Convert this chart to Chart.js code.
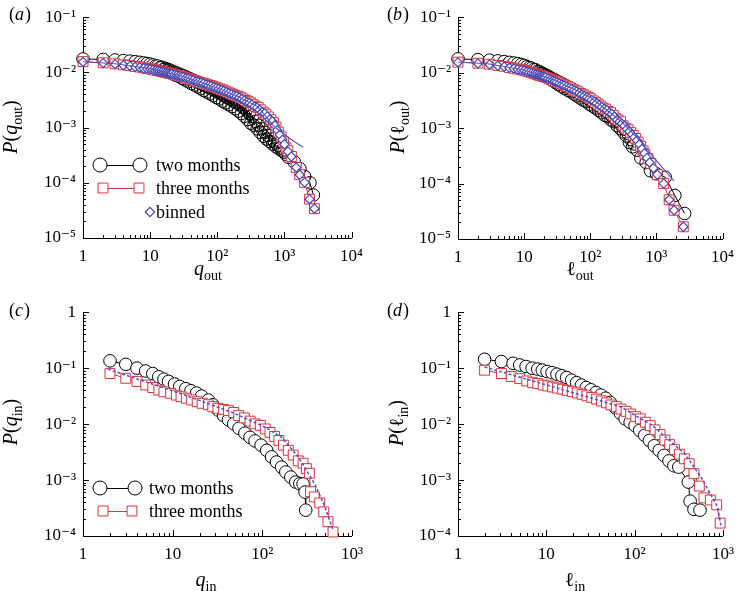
<!DOCTYPE html>
<html>
<head>
<meta charset="utf-8">
<script src="https://cdn.jsdelivr.net/npm/chart.js@4.4.1/dist/chart.umd.min.js"></script>
<style>
  body { margin: 0; background: #fff; width: 742px; height: 591px; position: relative; overflow: hidden; }
  .panel { position: absolute; }
</style>
</head>
<body>
<div class="panel" style="left:0;top:0"><canvas id="chartA" width="371" height="295"></canvas></div>
<div class="panel" style="left:371px;top:0"><canvas id="chartB" width="371" height="295"></canvas></div>
<div class="panel" style="left:0;top:295px"><canvas id="chartC" width="371" height="296"></canvas></div>
<div class="panel" style="left:371px;top:295px"><canvas id="chartD" width="371" height="296"></canvas></div>
<script>
// tick values and labels
var outXTicks = [1, 10, 100, 1000, 10000]
var outXLabels = ['1', '10', '10\u00b2', '10\u00b3', '10\u2074']
var outYTicks = [1e-5, 1e-4, 1e-3, 1e-2, 1e-1]
var outYLabels = ['10\u207b\u2075', '10\u207b\u2074', '10\u207b\u00b3', '10\u207b\u00b2', '10\u207b\u00b9']
var inXTicks = [1, 10, 100, 1000]
var inXLabels = ['1', '10', '10\u00b2', '10\u00b3']
var inYTicks = [1e-4, 1e-3, 1e-2, 1e-1, 1]
var inYLabels = ['10\u207b\u2074', '10\u207b\u00b3', '10\u207b\u00b2', '10\u207b\u00b9', '1']

// (a) P(q_out)
var aTwoX = [1,2,3,4,5,6,7,8,9,10,11,12,13,14,15,16,17,18,19,20,21,22,23,24,25,27,28,30,31,33,35,37,39,41,43,46,48,51,54,57,60,63,67,70,74,78,83,87,92,97,102,108,114,120,127,134,141,149,157,166,175,185,195,206,217,229,242,255,269,284,300,316,334,352,372,393,414,437,461,487,514,542,572,604,637,672,710,749,790,834,880,929,980,1050,1150,1400,1700,2000,2400,2700]
var aTwoY = [.0175,.0172,.0168,.0164,.0160,.0156,.0152,.0148,.0145,.0141,.0136,.0130,.0130,.0122,.0124,.0114,.0118,.0107,.0112,.0100,.0106,.0094,.0101,.0089,.0097,.0084,.0092,.0078,.0087,.0073,.0082,.0068,.0077,.0063,.0073,.0059,.0069,.0055,.0065,.0051,.0061,.0047,.0057,.0044,.0054,.0041,.0050,.0038,.0047,.0035,.0044,.0033,.0041,.0030,.0038,.0028,.0035,.0026,.0033,.0024,.0030,.0022,.0028,.0020,.0026,.0018,.0023,.0016,.0021,.0014,.0018,.0012,.0016,.0011,.0013,.00095,.0011,.00082,.00095,.00070,.00082,.00062,.00072,.00056,.00062,.00050,.00055,.00045,.00048,.00041,.00043,.00038,.00036,.00033,.00029,.00024,.00018,.00013,.00010,.00006]
var aThreeX = [1,2,3,4,5,6,7,8,9,10,11,12,13,14,15,16,17,18,19,20,22,24,26,28,30,33,36,39,42,46,50,55,60,65,71,78,85,93,100,110,120,131,143,156,170,186,203,222,242,264,288,314,343,374,408,445,486,530,578,630,688,750,818,893,974,1060,1130,1270,1500,1690,2000,2370,2800]
var aThreeY = [.0157,.0149,.0143,.0137,.0133,.0128,.0125,.0121,.0118,.0116,.0113,.0110,.0108,.0106,.0104,.0102,.0100,.0099,.0097,.0096,.0093,.0090,.0088,.0086,.0084,.0081,.0078,.0076,.0074,.0071,.0069,.0066,.0064,.0062,.0060,.0058,.0056,.0054,.0052,.0050,.0048,.0046,.0044,.0042,.0040,.0038,.0037,.0035,.0033,.0031,.0030,.0028,.0026,.0024,.0023,.0021,.0019,.00175,.00156,.00139,.00123,.00102,.00083,.00068,.00055,.00043,.00038,.00030,.00019,.00014,.000102,.0000505,.000034]
var aBinX = [1,2,3,4,5,6,7,8,9,10,11,12,13,14,15,16,17,18,19,20,21,23,25,27,29,31,34,37,40,44,48,52,57,62,68,74,81,89,96,105,115,125,137,149,163,178,194,212,232,253,276,301,328,358,391,426,465,508,554,604,659,719,784,855,933,1000,1130,1270,1500,1690,2000,2370,2800]
var aBinY = [.0155,.0147,.0141,.0135,.0131,.0126,.0123,.0119,.0116,.0114,.0111,.0108,.0106,.0104,.0102,.0100,.0098,.0097,.0095,.0094,.0093,.0090,.0088,.0086,.0084,.0082,.0079,.0077,.0074,.0072,.0069,.0067,.0065,.0063,.0060,.0058,.0056,.0054,.0052,.0050,.0048,.0046,.0044,.0042,.0040,.0038,.0037,.0035,.0033,.0031,.0029,.0028,.0026,.0024,.0023,.0021,.0019,.0018,.0016,.0014,.0013,.0011,.00090,.00074,.00060,.00050,.00037,.00030,.00019,.00014,.000102,.0000505,.000034]
var aFitX = [1,3,10,30,100,200,400,700,1000,1400,1900]
var aFitY = [.0156,.0143,.0117,.0085,.0052,.0037,.0024,.00105,.00075,.00056,.00044]

// (b) P(l_out)
var bTwoX = [1,2,3,4,5,6,7,8,9,10,11,12,13,14,15,16,17,18,19,20,21,22,23,24,25,27,28,30,31,33,35,37,39,41,43,46,48,51,54,57,60,63,67,70,74,78,83,87,92,97,102,108,114,120,127,134,141,149,157,166,175,185,195,206,217,229,242,255,269,284,300,316,334,352,372,392,414,437,461,510,582,700,812,1000,1360,1900,2670]
var bTwoY = [.0177,.0172,.0168,.0163,.0158,.0153,.0149,.0145,.0140,.0135,.0128,.0123,.0120,.0114,.0112,.0105,.0104,.0097,.0097,.0090,.0091,.0084,.0086,.0079,.0081,.0072,.0076,.0066,.0071,.0061,.0066,.0056,.0062,.0052,.0058,.0048,.0054,.0045,.0050,.0041,.0046,.0038,.0043,.0035,.0040,.0032,.0037,.0030,.0034,.0027,.0031,.0025,.0029,.0023,.0026,.0021,.0024,.0019,.0022,.0017,.0020,.0016,.0018,.0014,.0016,.0013,.0014,.0011,.0013,.00098,.0011,.00085,.00095,.00072,.00080,.00055,.00062,.00046,.00052,.00040,.00029,.00024,.00017,.00015,.00013,.000061,.0000288]
var bThreeX = [1,2,3,4,5,6,7,8,9,10,11,12,13,14,15,16,17,18,19,20,22,24,26,28,30,33,36,39,42,46,50,55,60,65,71,78,85,93,100,110,120,131,143,156,170,186,203,222,242,264,288,314,343,374,408,445,486,530,578,630,673,750,824,1030,1290,1560,1850,2550]
var bThreeY = [.0155,.0148,.0142,.0135,.0130,.0124,.0120,.0116,.0113,.0110,.0106,.0103,.0100,.0097,.0095,.0092,.0090,.0088,.0087,.0085,.0081,.0078,.0075,.0072,.0070,.0067,.0063,.0061,.0058,.0056,.0053,.0050,.0047,.0045,.0042,.0040,.0038,.0036,.0034,.0031,.0029,.0027,.0025,.0023,.0022,.0020,.0019,.0017,.0015,.0014,.0013,.0011,.0010,.00093,.00083,.00074,.00065,.00056,.00047,.00039,.00034,.00028,.00023,.000145,.0001,.000051,.000033,.0000166]
var bBinX = [1,2,3,4,5,6,7,8,9,10,11,12,13,14,15,16,17,18,19,20,21,23,25,27,29,31,34,37,40,44,48,52,57,62,68,74,81,89,96,105,115,125,137,149,163,178,194,212,232,253,276,301,328,358,391,426,465,508,554,604,659,719,790,900,1030,1290,1560,1850,2550]
var bBinY = [.0153,.0146,.0140,.0133,.0128,.0122,.0118,.0114,.0111,.0108,.0104,.0101,.0098,.0095,.0093,.0091,.0089,.0087,.0085,.0083,.0082,.0078,.0075,.0072,.0070,.0067,.0064,.0061,.0059,.0056,.0053,.0051,.0048,.0046,.0043,.0040,.0038,.0036,.0034,.0032,.0030,.0028,.0026,.0024,.0022,.0021,.0019,.0018,.0016,.0014,.0013,.0012,.0011,.00096,.00087,.00077,.00068,.00060,.00051,.00042,.00035,.00029,.00024,.00019,.000145,.0001,.000051,.000033,.0000166]
var bFitX = [1,3,10,30,100,300,600,900,1300,1850]
var bFitY = [.0156,.0143,.0112,.0072,.0036,.0013,.00055,.00030,.00018,.000112]

// (c) P(q_in)
var cTwoX = [2,3,4,5,6,7,8,9,10.5,12,14,16,18.5,21,25,28,32,37,42,48,55,64,73,83,97,112,127,144,164,183,208,236,262,285,300,305]
var cTwoY = [.135,.117,.100,.089,.080,.070,.0636,.058,.052,.047,.043,.0394,.0358,.0317,.0269,.0222,.0179,.0142,.0119,.0101,.0084,.0069,.0058,.0050,.0042,.0034,.0026,.0021,.0017,.00139,.00113,.00092,.00086,.00085,.00061,.00029]
var cThreeX = [2,3,4,5,6,7,8,9.5,11,12.4,14.2,16.3,18.8,21.3,25,28,32,37,42,48,54.5,63,73,83,95,108,122,137,153,172,195,221,252,285,310,335,345,380,437,485,540,615]
var cThreeY = [.080,.066,.058,.050,.045,.0405,.0378,.0354,.033,.0309,.029,.027,.0251,.0235,.0222,.0205,.0192,.0183,.0174,.0161,.0142,.0129,.0113,.0101,.0095,.0082,.0071,.0060,.0051,.0042,.0034,.0028,.0022,.0020,.0016,.00132,.00062,.00050,.00039,.00027,.00018,.000118]
var cFitX = [1.9,3.6,12.8,46,108,164,252,385,500,615]
var cFitY = [.096,.068,.0343,.0162,.0088,.0058,.0026,.00085,.00033,.000128]

// (d) P(l_in)
var dTwoX = [2,3.1,4.2,5,5.9,6.9,8,9,10.2,11.6,13.2,15,17,19.4,22,25,28.3,32,36.5,41.5,47,53,61,69,78,89,101,114,130,147,167,190,215,245,278,316,405,425,470,550]
var dTwoY = [.144,.131,.122,.114,.107,.100,.096,.092,.087,.083,.078,.073,.068,.061,.055,.0498,.045,.041,.0368,.033,.029,.0244,.0194,.0156,.0124,.0108,.0094,.0077,.0063,.0051,.0041,.0034,.00275,.0022,.0018,.0017,.00092,.00042,.0003,.00029]
var dThreeX = [2,3.1,4,5,6,7,8,9.2,10.4,11.8,13.4,15.3,17.3,19.7,22.4,25.4,28.8,32.7,37.1,42,48,54,62,70,80,90,103,116,132,150,170,194,220,250,283,321,366,415,470,540,610,720,850,930]
var dThreeY = [.092,.080,.071,.065,.059,.055,.053,.050,.048,.046,.044,.042,.040,.038,.036,.034,.032,.030,.028,.026,.024,.022,.0205,.0186,.0169,.0152,.0136,.0124,.0108,.0094,.0079,.0065,.0052,.0043,.0035,.0029,.0024,.00196,.0013,.00078,.00048,.00044,.00036,.00017]
var dFitX = [2,12.7,69,160,372,570,870,950]
var dFitY = [.105,.045,.0205,.0094,.0029,.0011,.00033,.00015]

var serif = '"Liberation Serif", "DejaVu Serif", serif'
var black = '#000000'
var red = '#d9323c'
var blue = '#4545b0'
var fitBlue = '#5a4fc4'

function pts(xs, ys) {
    return xs.map(function (x, i) { return { x: x, y: ys[i] } })
}

// circles stay white-filled up to openFrom, the dense run after it is drawn hollow
function twoMonths(xs, ys, openFrom) {
    return { data: pts(xs, ys), showLine: true, borderColor: black, borderWidth: 1,
        pointStyle: 'circle', pointRadius: 6.3, pointBorderColor: black, pointBorderWidth: 1,
        pointBackgroundColor: xs.map(function (x) { return x < openFrom ? '#fff' : 'rgba(255,255,255,0)' }),
        clip: false, order: 3 }
}
function threeMonths(xs, ys) {
    return { data: pts(xs, ys), showLine: true, borderColor: red, borderWidth: 1,
        pointStyle: 'rect', pointRadius: 7, pointBorderColor: red, pointBorderWidth: 1,
        pointBackgroundColor: '#fff', clip: false, order: 2 }
}
function binned(xs, ys) {
    return { data: pts(xs, ys), showLine: false,
        pointStyle: 'rectRot', pointRadius: 4.6, pointBorderColor: blue, pointBorderWidth: 1.2,
        pointBackgroundColor: '#fff', clip: false, order: 1 }
}
function fitLine(xs, ys, dashed) {
    return { data: pts(xs, ys), showLine: true, borderColor: fitBlue, borderWidth: dashed ? 1.5 : 1.1,
        borderDash: dashed ? [3, 2] : [], pointRadius: 0, clip: false, order: 0 }
}

function logAxis(min, max, ticks, labels, isX, size, pad) {
    return {
        type: 'logarithmic', min: min, max: max,
        grid: { display: false, drawTicks: false },
        border: { display: true, color: black, width: 1 },
        afterBuildTicks: function (s) { s.ticks = ticks.map(function (v) { return { value: v } }) },
        afterFit: function (s) { if (isX) s.height = size; else s.width = size },
        ticks: { autoSkip: false, maxRotation: 0, padding: pad, color: black,
            font: { family: serif, size: 17 },
            callback: function (v, i) { return labels[i] } }
    }
}

function fontFor(kind) {
    if (kind === 'i') return 'italic 20px ' + serif
    if (kind === 's') return '14px ' + serif
    return '20px ' + serif
}

// draws text made of parts, centred on cx, subscripts dropped below the baseline
function richText(ctx, parts, cx, base) {
    var widths = parts.map(function (p) { ctx.font = fontFor(p[1]); return ctx.measureText(p[0]).width })
    var total = widths.reduce(function (a, b) { return a + b }, 0)
    var x = cx - total / 2
    parts.forEach(function (p, i) {
        ctx.font = fontFor(p[1])
        ctx.fillText(p[0], x, p[1] === 's' ? base + 5 : base)
        x += widths[i]
    })
}

function marker(ctx, style, x, y, r, color) {
    ctx.beginPath()
    if (style === 'circle') ctx.arc(x, y, r, 0, Math.PI * 2)
    else if (style === 'rect') { var h = r * Math.SQRT1_2; ctx.rect(x - h, y - h, 2 * h, 2 * h) }
    else { ctx.moveTo(x - r, y); ctx.lineTo(x, y - r); ctx.lineTo(x + r, y); ctx.lineTo(x, y + r); ctx.closePath() }
    ctx.fillStyle = '#fff'
    ctx.fill()
    ctx.strokeStyle = color
    ctx.lineWidth = style === 'diamond' ? 1.2 : 1
    ctx.stroke()
}

var paperAxes = {
    id: 'paperAxes',
    beforeDatasetsDraw: function (chart) {
        var ctx = chart.ctx
        var area = chart.chartArea
        ctx.save()
        ctx.strokeStyle = black
        ctx.lineWidth = 1
        ;['x', 'y'].forEach(function (id) {
            var s = chart.scales[id]
            var lo = Math.round(Math.log10(s.min))
            var hi = Math.round(Math.log10(s.max))
            for (var e = lo; e <= hi; e++) {
                for (var k = 1; k <= 9; k++) {
                    var v = k * Math.pow(10, e)
                    if (v > s.max * 1.0001) break
                    var p = Math.round(s.getPixelForValue(v)) + 0.5
                    var len = k === 1 ? 6 : 3
                    ctx.beginPath()
                    if (id === 'x') { ctx.moveTo(p, area.bottom); ctx.lineTo(p, area.bottom - len) }
                    else { ctx.moveTo(area.left, p); ctx.lineTo(area.left + len, p) }
                    ctx.stroke()
                }
            }
        })
        ctx.restore()
    },
    afterDraw: function (chart, args, opts) {
        var ctx = chart.ctx
        ctx.save()
        ctx.fillStyle = black
        ctx.textBaseline = 'alphabetic'
        ctx.textAlign = 'left'
        richText(ctx, opts.xTitle, opts.xPos[0], opts.xPos[1])
        ctx.save()
        ctx.translate(opts.yPos[0], opts.yPos[1])
        ctx.rotate(-Math.PI / 2)
        richText(ctx, opts.yTitle, 0, 0)
        ctx.restore()
        // panel letter
        var px = opts.panelPos[0], py = opts.panelPos[1]
        ctx.font = '18px ' + serif
        ctx.fillText('(', px, py)
        px += ctx.measureText('(').width
        ctx.font = 'italic 18px ' + serif
        ctx.fillText(opts.panel, px, py)
        px += ctx.measureText(opts.panel).width + 1
        ctx.font = '18px ' + serif
        ctx.fillText(')', px, py)
        // legend
        ;(opts.legend || []).forEach(function (row) {
            if (row.x2) {
                ctx.beginPath()
                ctx.strokeStyle = row.color
                ctx.lineWidth = 1
                ctx.moveTo(row.x1, row.y + 0.5)
                ctx.lineTo(row.x2, row.y + 0.5)
                ctx.stroke()
                marker(ctx, row.style, row.x1, row.y, row.r, row.color)
                marker(ctx, row.style, row.x2, row.y, row.r, row.color)
            } else {
                marker(ctx, row.style, row.x1, row.y, row.r, row.color)
            }
            ctx.fillStyle = black
            ctx.font = '18px ' + serif
            ctx.fillText(row.text, row.tx, row.ty)
        })
        ctx.restore()
    }
}

function makeChart(id, cfg) {
    return new Chart(document.getElementById(id), {
        type: 'scatter',
        data: { datasets: cfg.datasets },
        options: {
            responsive: false,
            animation: false,
            events: [],
            layout: { padding: cfg.pad },
            plugins: { legend: { display: false }, tooltip: { enabled: false }, paperAxes: cfg.deco },
            scales: {
                x: logAxis(cfg.x[0], cfg.x[1], cfg.x[2], cfg.x[3], true, cfg.xH, 8),
                y: logAxis(cfg.y[0], cfg.y[1], cfg.y[2], cfg.y[3], false, cfg.yW, 7)
            }
        },
        plugins: [paperAxes]
    })
}

var qOut = [['q', 'i'], ['out', 's']]
var lOut = [['\u2113', 'n'], ['out', 's']]
var qIn = [['q', 'i'], ['in', 's']]
var lIn = [['\u2113', 'n'], ['in', 's']]
function probOf(v) { return [['P', 'i'], ['(', 'n']].concat(v, [[')', 'n']]) }

makeChart('chartA', {
    datasets: [fitLine(aFitX, aFitY, false), binned(aBinX, aBinY), threeMonths(aThreeX, aThreeY), twoMonths(aTwoX, aTwoY, 14)],
    pad: { left: 0, right: 17, top: 14, bottom: 0 }, xH: 57, yW: 83,
    x: [1, 1e4, outXTicks, outXLabels], y: [1e-5, 1e-1, outYTicks, outYLabels],
    deco: { xTitle: qOut, xPos: [208, 275], yTitle: probOf(qOut), yPos: [17, 127], panel: 'a', panelPos: [9, 20],
        legend: [
            { style: 'circle', color: black, x1: 100, x2: 140, y: 165, r: 7, text: 'two months', tx: 156, ty: 171 },
            { style: 'rect', color: red, x1: 103, x2: 139, y: 188, r: 7, text: 'three months', tx: 156, ty: 194 },
            { style: 'diamond', color: blue, x1: 150, y: 212, r: 4.6, text: 'binned', tx: 156, ty: 218 }
        ] }
})

makeChart('chartB', {
    datasets: [fitLine(bFitX, bFitY, false), binned(bBinX, bBinY), threeMonths(bThreeX, bThreeY), twoMonths(bTwoX, bTwoY, 14)],
    pad: { left: 0, right: 11, top: 14, bottom: 0 }, xH: 56, yW: 87,
    x: [1, 1e4, outXTicks, outXLabels], y: [1e-5, 1e-1, outYTicks, outYLabels],
    deco: { xTitle: lOut, xPos: [209, 275], yTitle: probOf(lOut), yPos: [33, 127], panel: 'b', panelPos: [16, 20] }
})

makeChart('chartC', {
    datasets: [fitLine(cFitX, cFitY, true), threeMonths(cThreeX, cThreeY), twoMonths(cTwoX, cTwoY, 1e9)],
    pad: { left: 0, right: 17, top: 16, bottom: 0 }, xH: 55, yW: 83,
    x: [1, 1e3, inXTicks, inXLabels], y: [1e-4, 1, inYTicks, inYLabels],
    deco: { xTitle: qIn, xPos: [206, 291], yTitle: probOf(qIn), yPos: [17, 127], panel: 'c', panelPos: [9, 21],
        legend: [
            { style: 'circle', color: black, x1: 100, x2: 135, y: 193, r: 7, text: 'two months', tx: 149, ty: 199 },
            { style: 'rect', color: red, x1: 103, x2: 132, y: 216, r: 7, text: 'three months', tx: 149, ty: 222 }
        ] }
})

makeChart('chartD', {
    datasets: [fitLine(dFitX, dFitY, true), threeMonths(dThreeX, dThreeY), twoMonths(dTwoX, dTwoY, 1e9)],
    pad: { left: 0, right: 12, top: 16, bottom: 0 }, xH: 55, yW: 87,
    x: [1, 1e3, inXTicks, inXLabels], y: [1e-4, 1, inYTicks, inYLabels],
    deco: { xTitle: lIn, xPos: [204, 291], yTitle: probOf(lIn), yPos: [32, 128], panel: 'd', panelPos: [16, 21] }
})
</script>
</body>
</html>
